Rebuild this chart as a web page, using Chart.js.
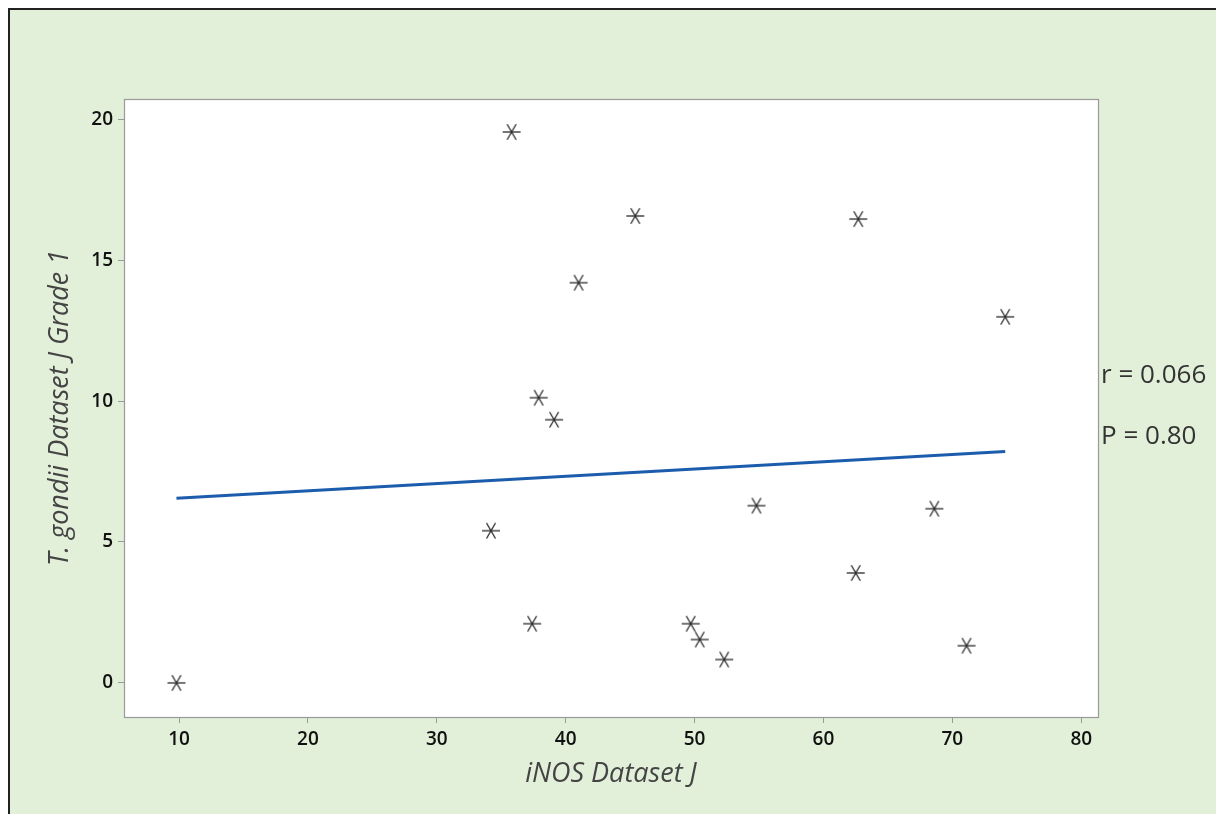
<!DOCTYPE html>
<html>
<head>
<meta charset="utf-8">
<script src="https://cdn.jsdelivr.net/npm/chart.js@4.4.1/dist/chart.umd.min.js"></script>
<style>
  body { margin: 0; background: #ffffff; }
  .frame {
    position: absolute;
    left: 8px;
    top: 8px;
    width: 1208px;
    height: 806px;
    border-top: 2px solid #222;
    border-left: 2px solid #222;
    background: #e2efd9;
  }
  canvas { display: block; }
</style>
</head>
<body>
<div class="frame">
  <canvas id="myChart" width="1206" height="804"></canvas>
</div>
<script>
// data
const inosValues = [9.8, 35.8, 45.4, 62.7, 41.0, 74.1, 37.9, 39.1, 34.2, 54.8, 68.6, 62.5, 37.4, 49.7, 50.4, 52.3, 71.1];
const gondiiValues = [0.0, 19.55, 16.57, 16.46, 14.2, 12.99, 10.12, 9.34, 5.4, 6.29, 6.18, 3.9, 2.1, 2.1, 1.54, 0.83, 1.32];

// fitted line end points
const fitX = [9.8, 74.1];
const fitY = [6.55, 8.21];

const xTickValues = [10, 20, 30, 40, 50, 60, 70, 80];
const yTickValues = [0, 5, 10, 15, 20];

const statLines = ["r = 0.066", "P = 0.80"];

// six-armed asterisk marker
function makeAsterisk() {
  const c = document.createElement("canvas");
  c.width = 20;
  c.height = 20;
  const g = c.getContext("2d");
  g.strokeStyle = "#2a2a2a";
  g.lineWidth = 1.3;
  g.translate(10, 10);
  for (let i = 0; i < 3; i++) {
    const a = (i * Math.PI) / 3;
    g.beginPath();
    g.moveTo(-9 * Math.cos(a), -9 * Math.sin(a));
    g.lineTo(9 * Math.cos(a), 9 * Math.sin(a));
    g.stroke();
  }
  return c;
}

const plotFrame = {
  id: "plotFrame",
  beforeDraw(chart) {
    const { ctx, chartArea: a } = chart;
    ctx.save();
    ctx.fillStyle = "#ffffff";
    ctx.fillRect(a.left, a.top, a.right - a.left, a.bottom - a.top);
    ctx.restore();
  },
  afterDraw(chart) {
    const { ctx, chartArea: a } = chart;
    ctx.save();
    ctx.strokeStyle = "#9a9a9a";
    ctx.lineWidth = 1.2;
    ctx.strokeRect(a.left + 0.5, a.top + 0.5, a.right - a.left, a.bottom - a.top);
    ctx.fillStyle = "#333";
    ctx.font = '26px "Open Sans"';
    ctx.textAlign = "left";
    ctx.textBaseline = "middle";
    ctx.fillText(statLines[0], a.right + 3, 366);
    ctx.fillText(statLines[1], a.right + 3, 427);
    ctx.restore();
  },
};

const ctx = document.getElementById("myChart").getContext("2d");

new Chart(ctx, {
  type: "scatter",
  data: {
    datasets: [
      {
        label: "Points",
        data: inosValues.map((x, i) => ({ x: x, y: gondiiValues[i] })),
        pointStyle: makeAsterisk(),
        pointRadius: 9,
      },
      {
        type: "line",
        label: "Fit",
        data: fitX.map((x, i) => ({ x: x, y: fitY[i] })),
        borderColor: "#1c5cad",
        borderWidth: 3,
        pointRadius: 0,
        fill: false,
      },
    ],
  },
  options: {
    responsive: false,
    animation: false,
    layout: {
      padding: { top: 89, right: 118, bottom: 0, left: 0 },
    },
    plugins: {
      legend: { display: false },
      tooltip: { enabled: false },
    },
    scales: {
      x: {
        type: "linear",
        min: 5.73,
        max: 81.3,
        afterFit: (scale) => { scale.height = 97; },
        afterBuildTicks: (scale) => {
          scale.ticks = xTickValues.map((v) => ({ value: v }));
        },
        grid: {
          drawOnChartArea: false,
          drawTicks: true,
          tickLength: 6,
          color: "#9a9a9a",
        },
        border: { display: false },
        ticks: {
          padding: 5,
          color: "#111",
          font: { family: "Open Sans", size: 19, weight: "600" },
        },
        title: {
          display: true,
          text: "iNOS Dataset J",
          color: "#444",
          font: { family: "Open Sans", size: 27, style: "italic" },
          padding: { top: 0, bottom: 23 },
        },
      },
      y: {
        type: "linear",
        min: -1.21,
        max: 20.72,
        afterFit: (scale) => { scale.width = 114; },
        afterBuildTicks: (scale) => {
          scale.ticks = yTickValues.map((v) => ({ value: v }));
        },
        grid: {
          drawOnChartArea: false,
          drawTicks: true,
          tickLength: 6,
          color: "#9a9a9a",
        },
        border: { display: false },
        ticks: {
          padding: 5,
          color: "#111",
          font: { family: "Open Sans", size: 19, weight: "600" },
        },
        title: {
          display: true,
          text: "T. gondii Dataset J Grade 1",
          color: "#444",
          font: { family: "Open Sans", size: 27, style: "italic" },
          padding: { top: 34, bottom: 0 },
        },
      },
    },
  },
  plugins: [plotFrame],
});
</script>
</body>
</html>
